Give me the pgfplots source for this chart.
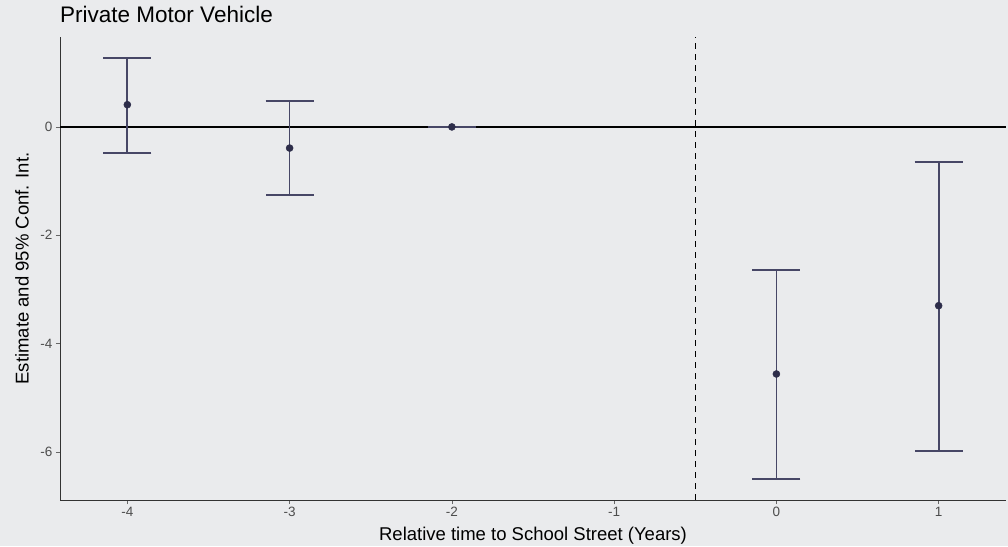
\documentclass[border=0pt]{standalone}
\usepackage{pgfplots}
\pgfplotsset{compat=1.18}
\usepackage{fontspec}
\setmainfont{Liberation Sans}
\definecolor{bg}{HTML}{EAEBED}
\definecolor{barc}{HTML}{474766}
\definecolor{ptc}{HTML}{2D2D4A}
\definecolor{tickc}{HTML}{4D4D4D}
\begin{document}
\begin{tikzpicture}[x=1pt,y=1pt]
\fill[bg] (0,0) rectangle (1008,546);
\begin{axis}[
  at={(60pt,46pt)}, anchor=south west,
  width=946pt, height=463pt, scale only axis,
  xmin=-4.415, xmax=1.415, ymin=-6.886, ymax=1.66,
  axis x line*=bottom, axis y line*=left,
  axis line style={draw=black!80, line width=0.8pt, -},
  xtick={-4,-3,-2,-1,0,1}, xticklabels={-4,-3,-2,-1,0,1},
  ytick={-6,-4,-2,0}, yticklabels={-6,-4,-2,0},
  tick align=outside, major tick length=4pt,
  tick style={draw=black!60, line width=0.6pt},
  ticklabel style={font=\fontsize{13.5}{16}\selectfont, text=tickc},
  xlabel={Relative time to School Street (Years)},
  ylabel={Estimate and 95\% Conf. Int.},
  every axis x label/.style={at={(axis description cs:0.5,0)}, anchor=center, yshift=-36pt, font=\fontsize{18.5}{22}\selectfont, text=black},
  every axis y label/.style={at={(axis description cs:0,0.5)}, xshift=-38pt, rotate=90, anchor=center, font=\fontsize{18.5}{22}\selectfont, text=black},
  clip=false,
]
\addplot[black, line width=1.3pt, forget plot] coordinates {(-4.415,0) (1.415,0)};
\addplot[black, line width=1.1pt, dashed, dash pattern=on 6pt off 5pt, forget plot] coordinates {(-0.5,-6.886) (-0.5,1.66)};
\addplot[barc, line width=1.7pt, only marks, mark=*, mark size=3.5pt,
  mark options={fill=ptc, draw=ptc, line width=0.5pt},
  error bars/.cd, y dir=both, y explicit,
  error bar style={barc, line width=1.7pt},
  error mark=|,
  error mark options={barc, line width=1.7pt, mark size=24pt}]
  coordinates {
  (-4,0.41) += (0,0.86) -= (0,0.89)
  (-3,-0.39) += (0,0.87) -= (0,0.87)
  (-2,0) += (0,0) -= (0,0)
  (0,-4.56) += (0,1.92) -= (0,1.94)
  (1,-3.30) += (0,2.65) -= (0,2.68)
  };
\end{axis}
\node[anchor=base west, font=\fontsize{22.5}{26}\selectfont, inner sep=0pt] at (60,523) {Private Motor Vehicle};
\pgfresetboundingbox
\useasboundingbox (0,0) rectangle (1008,546);
\end{tikzpicture}
\end{document}
